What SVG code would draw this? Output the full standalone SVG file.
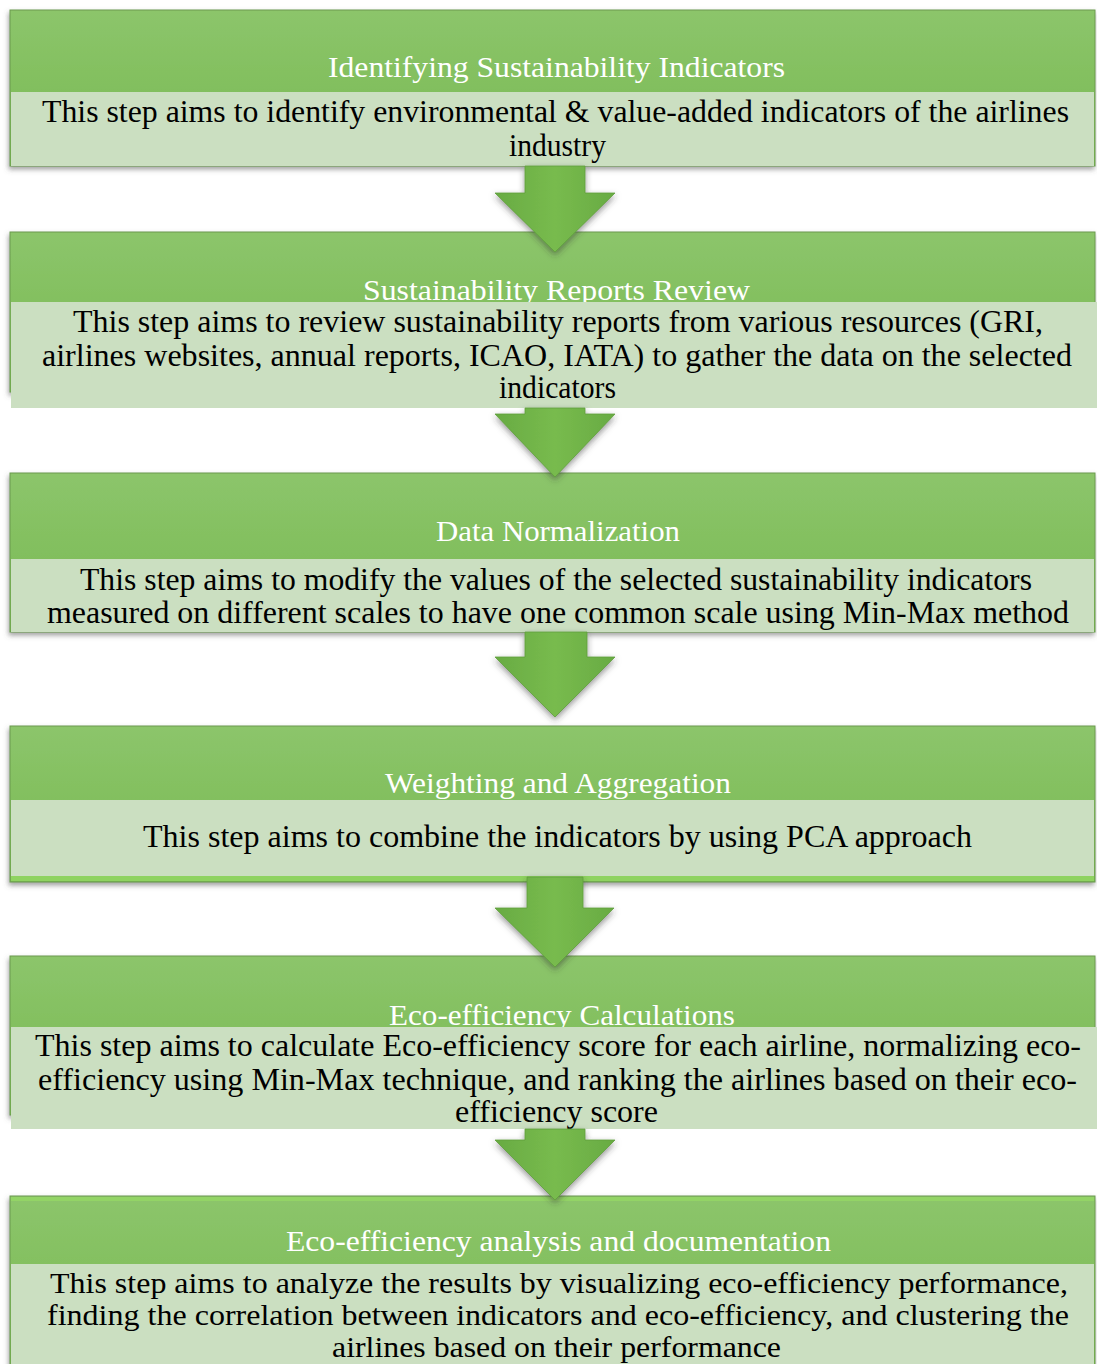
<svg xmlns="http://www.w3.org/2000/svg" width="1097" height="1364" viewBox="0 0 1097 1364">
<style>
.box{fill:url(#gTop);stroke:#6a9a4f;stroke-width:1}
.panel{fill:#cbdfc1}
.title{font-family:"Liberation Serif","Times New Roman",serif;font-size:30px;fill:#ffffff}
.desc{font-family:"Liberation Serif","Times New Roman",serif;font-size:31px;fill:#000000}
.desc.small{font-size:29px}
.arrow{fill:url(#gArrow);stroke:#5f9e3c;stroke-width:0.8}
</style>
<defs>
<linearGradient id="gTop" x1="0" y1="0" x2="0" y2="1">
<stop offset="0" stop-color="#8cc56b"/>
<stop offset="0.5" stop-color="#82bf5e"/>
<stop offset="1" stop-color="#78b850"/>
</linearGradient>
<linearGradient id="gArrow" x1="0" y1="0" x2="1" y2="0">
<stop offset="0" stop-color="#68ab42"/>
<stop offset="0.5" stop-color="#78bb4e"/>
<stop offset="1" stop-color="#68ab42"/>
</linearGradient>
<filter id="sh" x="-5%" y="-20%" width="110%" height="140%">
<feDropShadow dx="-1" dy="3" stdDeviation="2.5" flood-color="#555555" flood-opacity="0.55"/>
</filter>
<filter id="ash" x="-30%" y="-30%" width="160%" height="160%">
<feDropShadow dx="0" dy="3" stdDeviation="3" flood-color="#333333" flood-opacity="0.5"/>
</filter>
</defs>
<rect width="1097" height="1364" fill="#ffffff"/>

<g id="node1">
<rect class="box" x="10" y="10" width="1085" height="156" filter="url(#sh)"/>
<text class="title" x="328" y="77" textLength="457" lengthAdjust="spacingAndGlyphs">Identifying  Sustainability  Indicators</text>
<rect class="panel" x="11" y="92" width="1083" height="74"/>
<text class="desc" x="42" y="122" textLength="1027" lengthAdjust="spacingAndGlyphs">This step aims to identify environmental &amp; value-added indicators of the airlines</text>
<text class="desc" x="509" y="156" textLength="97" lengthAdjust="spacingAndGlyphs">industry</text>
</g>

<g id="node2">
<rect class="box" x="10" y="232" width="1085" height="160" filter="url(#sh)"/>
<text class="title" x="363" y="300" textLength="387" lengthAdjust="spacingAndGlyphs">Sustainability  Reports Review</text>
<rect class="panel" x="11" y="302" width="1086" height="106"/>
<text class="desc" x="73" y="332" textLength="970" lengthAdjust="spacingAndGlyphs">This step aims to review sustainability  reports from various resources (GRI,</text>
<text class="desc" x="42" y="366" textLength="1030" lengthAdjust="spacingAndGlyphs">airlines  websites, annual reports, ICAO, IATA) to gather the data on the selected</text>
<text class="desc" x="499" y="398" textLength="117" lengthAdjust="spacingAndGlyphs">indicators</text>
</g>

<g id="node3">
<rect class="box" x="10" y="473" width="1085" height="159" filter="url(#sh)"/>
<text class="title" x="436" y="541" textLength="244" lengthAdjust="spacingAndGlyphs">Data Normalization</text>
<rect class="panel" x="11" y="559" width="1083" height="73"/>
<text class="desc" x="80" y="590" textLength="952" lengthAdjust="spacingAndGlyphs">This step aims to modify the values of the selected sustainability  indicators</text>
<text class="desc" x="47" y="623" textLength="1022" lengthAdjust="spacingAndGlyphs">measured on different scales to have one common scale using  Min-Max method</text>
</g>

<g id="node4">
<rect class="box" x="10" y="726" width="1085" height="156" filter="url(#sh)"/>
<text class="title" x="385" y="793" textLength="346" lengthAdjust="spacingAndGlyphs">Weighting  and Aggregation</text>
<rect class="panel" x="11" y="800" width="1083" height="76"/>
<rect x="11" y="876" width="1083" height="5" fill="#8fd361"/>
<text class="desc" x="143" y="847" textLength="829" lengthAdjust="spacingAndGlyphs">This step aims to combine the indicators  by using  PCA approach</text>
</g>

<g id="node5">
<rect class="box" x="10" y="956" width="1085" height="159" filter="url(#sh)"/>
<text class="title" x="389" y="1025" textLength="346" lengthAdjust="spacingAndGlyphs">Eco-efficiency  Calculations</text>
<rect class="panel" x="11" y="1027" width="1086" height="102"/>
<text class="desc" x="35" y="1056" textLength="1046" lengthAdjust="spacingAndGlyphs">This step aims to calculate Eco-efficiency  score for each airline,  normalizing  eco-</text>
<text class="desc" x="38" y="1090" textLength="1039" lengthAdjust="spacingAndGlyphs">efficiency using  Min-Max  technique, and ranking  the airlines  based on their eco-</text>
<text class="desc" x="455" y="1122" textLength="203" lengthAdjust="spacingAndGlyphs">efficiency score</text>
</g>

<g id="node6">
<rect class="box" x="10" y="1196" width="1085" height="172" filter="url(#sh)"/>
<rect x="11" y="1197" width="1083" height="4" fill="#93d466"/>
<text class="title" x="286" y="1251" textLength="545" lengthAdjust="spacingAndGlyphs">Eco-efficiency  analysis  and documentation</text>
<rect class="panel" x="11" y="1264" width="1083" height="100"/>
<text class="desc small" x="50" y="1293" textLength="1018" lengthAdjust="spacingAndGlyphs">This step aims to analyze the results by visualizing  eco-efficiency performance,</text>
<text class="desc small" x="47" y="1325" textLength="1022" lengthAdjust="spacingAndGlyphs">finding  the correlation  between indicators  and eco-efficiency, and clustering  the</text>
<text class="desc small" x="332" y="1357" textLength="449" lengthAdjust="spacingAndGlyphs">airlines  based on their performance</text>
</g>

<g id="connectors">
<polygon class="arrow" filter="url(#ash)" points="525,166 585,166 585,193 615,193 555,252 495,193 525,193"/>
<polygon class="arrow" filter="url(#ash)" points="525,408 585,408 585,414 615,414 555,477 495,414 525,414"/>
<polygon class="arrow" filter="url(#ash)" points="525,632 587,632 587,657 615,657 555,717 495,657 525,657"/>
<polygon class="arrow" filter="url(#ash)" points="527,877 583,877 583,908 614,908 555,967 495,908 527,908"/>
<polygon class="arrow" filter="url(#ash)" points="525,1129 585,1129 585,1140 615,1140 555,1200 495,1140 525,1140"/>
</g>
</svg>
